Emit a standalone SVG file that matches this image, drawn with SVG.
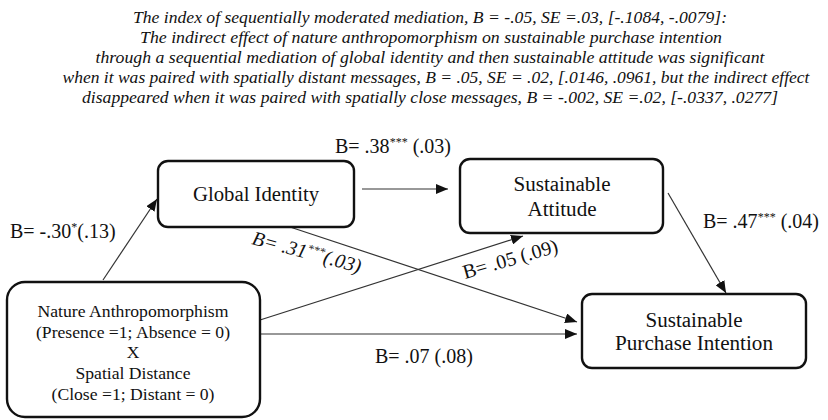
<svg xmlns="http://www.w3.org/2000/svg" width="828" height="420" viewBox="0 0 828 420" font-family="'Liberation Serif', 'Times New Roman', 'DejaVu Serif', serif">
<style>
text{font-family:'Liberation Serif','Times New Roman','DejaVu Serif',serif;fill:#111}
.title{font-size:17.5px;font-style:italic;text-anchor:middle}
.node rect{fill:#fff;stroke:#111;stroke-width:2.4}
.nt{font-size:20px;text-anchor:middle}
.nt2{font-size:17.5px;text-anchor:middle}
.lbl{font-size:20px}
.sup{font-size:12px}
#connectors line{stroke:#333;stroke-width:1.2;fill:none}
</style>
<defs>
<marker id="ah" viewBox="0 0 12 10" refX="12" refY="5" markerWidth="12" markerHeight="10" markerUnits="userSpaceOnUse" orient="auto">
<path d="M0,0 L12,5 L0,10 Z" fill="#111"/>
</marker>
</defs>
<g id="title">
<text class="title" x="430" y="23" textLength="594" lengthAdjust="spacingAndGlyphs">The index of sequentially moderated mediation, B = -.05, SE =.03, [-.1084, -.0079]:</text>
<text class="title" x="431" y="43" textLength="582" lengthAdjust="spacingAndGlyphs">The indirect effect of nature anthropomorphism on sustainable purchase intention</text>
<text class="title" x="430" y="63" textLength="669" lengthAdjust="spacingAndGlyphs">through a sequential mediation of global identity and then sustainable attitude was significant</text>
<text class="title" x="436" y="83" textLength="747" lengthAdjust="spacingAndGlyphs">when it was paired with spatially distant messages, B = .05, SE = .02, [.0146, .0961, but the indirect effect</text>
<text class="title" x="430" y="103" textLength="696" lengthAdjust="spacingAndGlyphs">disappeared when it was paired with spatially close messages, B = -.002, SE =.02, [-.0337, .0277]</text>
</g>
<g id="connectors">
<line x1="103" y1="280" x2="157" y2="199" marker-end="url(#ah)"/>
<line x1="362" y1="189" x2="448" y2="189" marker-end="url(#ah)"/>
<line x1="290" y1="227" x2="577" y2="322" marker-end="url(#ah)"/>
<line x1="260" y1="320" x2="523" y2="236" marker-end="url(#ah)"/>
<line x1="260" y1="334" x2="577" y2="334" marker-end="url(#ah)"/>
<line x1="668" y1="193" x2="726" y2="293" marker-end="url(#ah)"/>
</g>
<g id="labels">
<text class="lbl" x="10" y="238">B= -.30<tspan class="sup" dy="-7">*</tspan><tspan dy="7">(.13)</tspan></text>
<text class="lbl" x="335" y="153">B= .38<tspan class="sup" dy="-7">***</tspan><tspan dy="7"> (.03)</tspan></text>
<text class="lbl" x="703" y="228">B= .47<tspan class="sup" dy="-7">***</tspan><tspan dy="7"> (.04)</tspan></text>
<text class="lbl" x="375" y="363">B= .07 (.08)</text>
<text class="lbl" font-style="italic" transform="translate(251,244) rotate(15)">B= .31<tspan class="sup" dy="-7">***</tspan><tspan dy="7">(.03)</tspan></text>
<text class="lbl" transform="translate(465,279) rotate(-16)">B= .05 (.09)</text>
</g>
<g id="global-identity" class="node">
<rect x="158" y="161" width="196" height="66" rx="10"/>
<text class="nt" x="256" y="201" textLength="126" lengthAdjust="spacingAndGlyphs">Global Identity</text>
</g>
<g id="sustainable-attitude" class="node">
<rect x="460" y="159" width="203" height="74" rx="10"/>
<text class="nt" x="562" y="191" textLength="97" lengthAdjust="spacingAndGlyphs">Sustainable</text>
<text class="nt" x="562" y="216" textLength="69" lengthAdjust="spacingAndGlyphs">Attitude</text>
</g>
<g id="nature-anthropomorphism" class="node">
<rect x="7" y="282" width="253" height="135" rx="18"/>
<text class="nt2" x="133" y="317" textLength="191" lengthAdjust="spacingAndGlyphs">Nature Anthropomorphism</text>
<text class="nt2" x="133" y="338" textLength="194" lengthAdjust="spacingAndGlyphs">(Presence =1; Absence = 0)</text>
<text class="nt2" x="133" y="358">X</text>
<text class="nt2" x="133" y="379" textLength="115" lengthAdjust="spacingAndGlyphs">Spatial Distance</text>
<text class="nt2" x="133" y="400" textLength="163" lengthAdjust="spacingAndGlyphs">(Close =1; Distant = 0)</text>
</g>
<g id="purchase-intention" class="node">
<rect x="582" y="294" width="224" height="74" rx="10"/>
<text class="nt" x="694" y="327" textLength="97" lengthAdjust="spacingAndGlyphs">Sustainable</text>
<text class="nt" x="694" y="350" textLength="158" lengthAdjust="spacingAndGlyphs">Purchase Intention</text>
</g>
</svg>
